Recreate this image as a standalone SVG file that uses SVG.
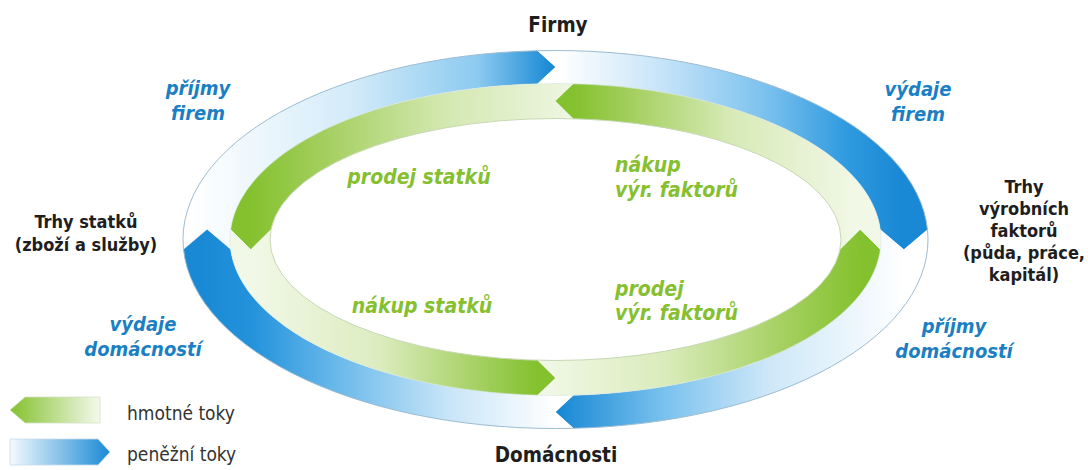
<svg xmlns="http://www.w3.org/2000/svg" width="1088" height="470" viewBox="0 0 1088 470">
<style>
  text { font-family: "DejaVu Sans Condensed", "DejaVu Sans", sans-serif; }
  .node { font-weight: 700; fill: #1e1e1e; text-anchor: middle; }
  .big { font-size: 20.5px; }
  .side { font-size: 18px; }
  .money { font-weight: 700; font-style: italic; fill: #1b7fc3; font-size: 20px; text-anchor: middle; }
  .goods { font-weight: 700; font-style: italic; fill: #86bf2f; font-size: 21px; }
  .legend { font-size: 19px; fill: #333333; }
  .ring-outer { fill: none; stroke: #9dbcd2; stroke-width: 1; }
  .ring-mid { fill: none; stroke: #d9e6e2; stroke-width: 0.6; }
  .ring-inner { fill: none; stroke: #c6d8b2; stroke-width: 1; }
</style>
<defs>
  <linearGradient id="bTL" gradientUnits="userSpaceOnUse" x1="190" y1="0" x2="550" y2="0">
    <stop offset="0" stop-color="#ffffff"/><stop offset="0.45" stop-color="#d3ebf9"/><stop offset="0.8" stop-color="#8ccaf0"/><stop offset="1" stop-color="#1c8bd6"/>
  </linearGradient>
  <linearGradient id="bTR" gradientUnits="userSpaceOnUse" x1="560" y1="0" x2="900" y2="0">
    <stop offset="0" stop-color="#ffffff"/><stop offset="0.3" stop-color="#c6e4f8"/><stop offset="0.6" stop-color="#7cc2ee"/><stop offset="0.85" stop-color="#2d99df"/><stop offset="1" stop-color="#1a89d5"/>
  </linearGradient>
  <linearGradient id="bBR" gradientUnits="userSpaceOnUse" x1="905" y1="0" x2="560" y2="0">
    <stop offset="0" stop-color="#ffffff"/><stop offset="0.4" stop-color="#cde7f8"/><stop offset="0.7" stop-color="#79c1ee"/><stop offset="1" stop-color="#1a89d5"/>
  </linearGradient>
  <linearGradient id="bBL" gradientUnits="userSpaceOnUse" x1="555" y1="0" x2="200" y2="0">
    <stop offset="0" stop-color="#ffffff"/><stop offset="0.3" stop-color="#c8e5f8"/><stop offset="0.6" stop-color="#6ebbeb"/><stop offset="0.85" stop-color="#2493dc"/><stop offset="1" stop-color="#1a89d5"/>
  </linearGradient>
  <linearGradient id="gTL" gradientUnits="userSpaceOnUse" x1="573" y1="0" x2="250" y2="0">
    <stop offset="0" stop-color="#eef6e2"/><stop offset="0.4" stop-color="#d3e8b0"/><stop offset="0.75" stop-color="#a6d063"/><stop offset="1" stop-color="#84c12e"/>
  </linearGradient>
  <linearGradient id="gTR" gradientUnits="userSpaceOnUse" x1="860" y1="0" x2="573" y2="0">
    <stop offset="0" stop-color="#f2f8e8"/><stop offset="0.45" stop-color="#d7eab6"/><stop offset="0.8" stop-color="#a3cf5e"/><stop offset="1" stop-color="#84c12e"/>
  </linearGradient>
  <linearGradient id="gBR" gradientUnits="userSpaceOnUse" x1="540" y1="0" x2="860" y2="0">
    <stop offset="0" stop-color="#f2f8e8"/><stop offset="0.4" stop-color="#d9ebba"/><stop offset="0.75" stop-color="#a6d163"/><stop offset="1" stop-color="#84c12e"/>
  </linearGradient>
  <linearGradient id="gBL" gradientUnits="userSpaceOnUse" x1="250" y1="0" x2="537" y2="0">
    <stop offset="0" stop-color="#f2f8e8"/><stop offset="0.45" stop-color="#dcecbf"/><stop offset="0.8" stop-color="#a4d061"/><stop offset="1" stop-color="#84c12e"/>
  </linearGradient>
  <linearGradient id="lgG" x1="0" y1="0" x2="1" y2="0">
    <stop offset="0" stop-color="#84c12e"/><stop offset="1" stop-color="#f4f9ec"/>
  </linearGradient>
  <linearGradient id="lgB" x1="0" y1="0" x2="1" y2="0">
    <stop offset="0" stop-color="#f4fafe"/><stop offset="1" stop-color="#1a89d5"/>
  </linearGradient>
</defs>

<g id="connectors">
  <!-- money flows (blue, clockwise) -->
  <path id="flow-prijmy-firem" fill="url(#bTL)" d="M183.52,249.5 A372.5,189 0 0 1 537.5,50.72 L555.5,67 L537.5,83.74 A325.5,156 0 0 0 230.67,249.5 L207.1,229.5 Z"/>
  <path id="flow-vydaje-firem" fill="url(#bTR)" d="M537.5,50.72 A372.5,189 0 0 1 927.48,229.5 L903.9,249.5 L880.33,229.5 A325.5,156 0 0 0 537.5,83.74 L555.5,67 Z"/>
  <path id="flow-prijmy-domacnosti" fill="url(#bBR)" d="M927.48,229.5 A372.5,189 0 0 1 573.5,428.28 L555.5,412 L573.5,395.26 A325.5,156 0 0 0 880.33,229.5 L903.9,249.5 Z"/>
  <path id="flow-vydaje-domacnosti" fill="url(#bBL)" d="M573.5,428.28 A372.5,189 0 0 1 183.52,249.5 L207.1,229.5 L230.67,249.5 A325.5,156 0 0 0 573.5,395.26 L555.5,412 Z"/>
  <!-- goods flows (green, counter-clockwise) -->
  <path id="flow-prodej-statku" fill="url(#gTL)" d="M573.5,83.74 A325.5,156 0 0 0 230.67,229.5 L250.8,249.5 L270.98,229.5 A285.5,121 0 0 1 573.5,118.74 L555.5,101 Z"/>
  <path id="flow-nakup-statku" fill="url(#gBL)" d="M230.67,229.5 A325.5,156 0 0 0 537.5,395.26 L555.5,378 L537.5,360.26 A285.5,121 0 0 1 270.98,229.5 L250.8,249.5 Z"/>
  <path id="flow-prodej-faktoru" fill="url(#gBR)" d="M537.5,395.26 A325.5,156 0 0 0 880.33,249.5 L860.2,229.5 L840.02,249.5 A285.5,121 0 0 1 537.5,360.26 L555.5,378 Z"/>
  <path id="flow-nakup-faktoru" fill="url(#gTR)" d="M880.33,249.5 A325.5,156 0 0 0 573.5,83.74 L555.5,101 L573.5,118.74 A285.5,121 0 0 1 840.02,249.5 L860.2,229.5 Z"/>
  <ellipse class="ring-outer" cx="555.5" cy="239.5" rx="372.5" ry="189"/>
  <ellipse class="ring-mid" cx="555.5" cy="239.5" rx="325.5" ry="156"/>
  <ellipse class="ring-inner" cx="555.5" cy="239.5" rx="285.5" ry="121"/>
</g>

<g id="flow-labels">
  <text class="money" x="198" y="95">příjmy</text>
  <text class="money" x="198" y="120">firem</text>
  <text class="money" x="918" y="96">výdaje</text>
  <text class="money" x="918" y="121">firem</text>
  <text class="money" x="143" y="331">výdaje</text>
  <text class="money" x="143" y="356">domácností</text>
  <text class="money" x="954" y="333">příjmy</text>
  <text class="money" x="954" y="358">domácností</text>
  <text class="goods" x="419" y="184" text-anchor="middle">prodej statků</text>
  <text class="goods" x="615" y="172">nákup</text>
  <text class="goods" x="615" y="197">výr. faktorů</text>
  <text class="goods" x="422" y="313" text-anchor="middle">nákup statků</text>
  <text class="goods" x="615" y="295.5">prodej</text>
  <text class="goods" x="615" y="320">výr. faktorů</text>
</g>

<g id="firmy"><text class="node big" x="558" y="32">Firmy</text></g>
<g id="domacnosti"><text class="node big" x="556" y="462">Domácnosti</text></g>
<g id="trhy-statku">
  <text class="node side" x="86" y="228">Trhy statků</text>
  <text class="node side" x="86" y="251">(zboží a služby)</text>
</g>
<g id="trhy-faktoru">
  <text class="node side" x="1024" y="193">Trhy</text>
  <text class="node side" x="1024" y="215">výrobních</text>
  <text class="node side" x="1024" y="237">faktorů</text>
  <text class="node side" x="1024" y="259">(půda, práce,</text>
  <text class="node side" x="1024" y="281">kapitál)</text>
</g>

<g id="legend">
  <path d="M10,410 L25,397 L100,397 L100,423 L25,423 Z" fill="url(#lgG)" stroke="#d3e2c3" stroke-width="0.8"/>
  <path d="M10,439 L98,439 L110,452 L98,465 L10,465 Z" fill="url(#lgB)" stroke="#c6dbe8" stroke-width="0.8"/>
  <text class="legend" x="127" y="420">hmotné toky</text>
  <text class="legend" x="127" y="461">peněžní toky</text>
</g>
</svg>
